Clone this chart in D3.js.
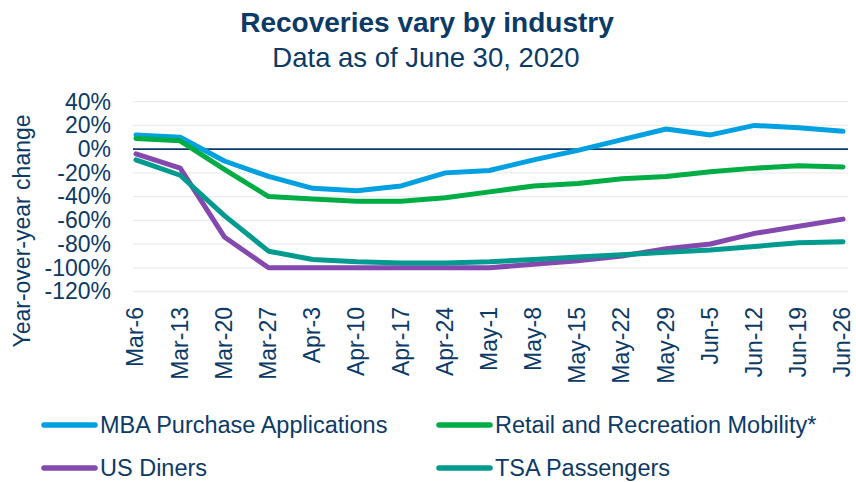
<!DOCTYPE html>
<html><head><meta charset="utf-8">
<script src="https://cdn.jsdelivr.net/npm/d3@7"></script>
<style>
html,body{margin:0;padding:0;background:#fff;}
svg{display:block;font-family:"Liberation Sans",Arial,sans-serif;}
</style></head>
<body>
<svg id="chart" width="856" height="482"></svg>
<script>
const categories = ["Mar-6","Mar-13","Mar-20","Mar-27","Apr-3","Apr-10","Apr-17","Apr-24","May-1","May-8","May-15","May-22","May-29","Jun-5","Jun-12","Jun-19","Jun-26"];
const mbaPurchase = [12, 10, -10, -23, -33, -35, -31, -20, -18, -9, -1, 8, 17, 12, 20, 18, 15];
const retailMobility = [9, 7, -17, -40, -42, -44, -44, -41, -36, -31, -29, -25, -23, -19, -16, -14, -15];
const usDiners = [-4, -16, -74, -100, -100, -100, -100, -100, -100, -97, -94, -90, -84, -80, -71, -65, -59];
const tsaPassengers = [-9, -22, -56, -86, -93, -95, -96, -96, -95, -93, -91, -89, -87, -85, -82, -79, -78];
const yTicks = [40, 20, 0, -20, -40, -60, -80, -100, -120];
const seriesNames = ["MBA Purchase Applications", "Retail and Recreation Mobility*", "US Diners", "TSA Passengers"];
const seriesColors = ["#00a0e1", "#00ad45", "#8349ae", "#009a8e"];
const seriesValues = [mbaPurchase, retailMobility, usDiners, tsaPassengers];

const textColor = "#0c3a66";
const svg = d3.select("#chart");

const x = d3.scalePoint().domain(categories).range([136, 843]);
const y = d3.scaleLinear().domain([-120, 40]).range([291.5, 101.7]);
const gridLeft = 133, gridRight = 848;

// title
svg.append("text").attr("x", 427).attr("y", 31.5).attr("text-anchor", "middle")
  .attr("font-size", 28).attr("font-weight", "bold").attr("fill", textColor)
  .text("Recoveries vary by industry");
svg.append("text").attr("x", 426).attr("y", 66.5).attr("text-anchor", "middle")
  .attr("font-size", 27.5).attr("fill", textColor)
  .text("Data as of June 30, 2020");

// gridlines
svg.append("g").selectAll("line").data(yTicks.filter(d => d !== 0)).join("line")
  .attr("x1", gridLeft).attr("x2", gridRight)
  .attr("y1", d => y(d)).attr("y2", d => y(d))
  .attr("stroke", "#ececec").attr("stroke-width", 1.3);

// y axis labels
const yAxis = d3.axisLeft(y).tickValues(yTicks).tickFormat(d => d + "%").tickSize(0).tickPadding(0);
const yg = svg.append("g").attr("transform", "translate(111,0)").call(yAxis);
yg.select(".domain").remove();
yg.selectAll("text").attr("font-size", 23).attr("fill", textColor)
  .attr("font-family", "Liberation Sans, Arial, sans-serif");

// zero line
svg.append("line").attr("x1", gridLeft).attr("x2", gridRight)
  .attr("y1", y(0)).attr("y2", y(0)).attr("stroke", "#0c3a66").attr("stroke-width", 1.6);

// x axis labels
const xAxis = d3.axisBottom(x).tickSize(0).tickPadding(0);
const xg = svg.append("g").attr("transform", "translate(0,307)").call(xAxis);
xg.select(".domain").remove();
xg.selectAll("text").attr("font-size", 23).attr("fill", textColor)
  .attr("font-family", "Liberation Sans, Arial, sans-serif")
  .attr("transform", "rotate(-90)").attr("text-anchor", "end")
  .attr("x", 0).attr("y", 0).attr("dy", "0.3em");

// y axis title
svg.append("text").attr("transform", "translate(30,231) rotate(-90)")
  .attr("text-anchor", "middle").attr("font-size", 23).attr("fill", textColor)
  .text("Year-over-year change");

// lines
const line = d3.line().x((d, i) => x(categories[i])).y(d => y(d));
svg.append("g").selectAll("path").data(seriesValues).join("path")
  .attr("d", d => line(d)).attr("fill", "none")
  .attr("stroke", (d, i) => seriesColors[i]).attr("stroke-width", 5)
  .attr("stroke-linejoin", "round").attr("stroke-linecap", "round");

// legend
const legPos = [[44, 425], [439, 425], [44, 468], [439, 468]];
const lg = svg.append("g").selectAll("g").data(seriesNames).join("g")
  .attr("transform", (d, i) => `translate(${legPos[i][0]},${legPos[i][1]})`);
lg.append("line").attr("x1", 0).attr("x2", 51).attr("y1", 0).attr("y2", 0)
  .attr("stroke", (d, i) => seriesColors[i]).attr("stroke-width", 5.5).attr("stroke-linecap", "round");
lg.append("text").attr("x", 56).attr("y", 0).attr("dy", "0.35em")
  .attr("font-size", 23.5).attr("fill", textColor).text(d => d);
</script>
</body></html>
